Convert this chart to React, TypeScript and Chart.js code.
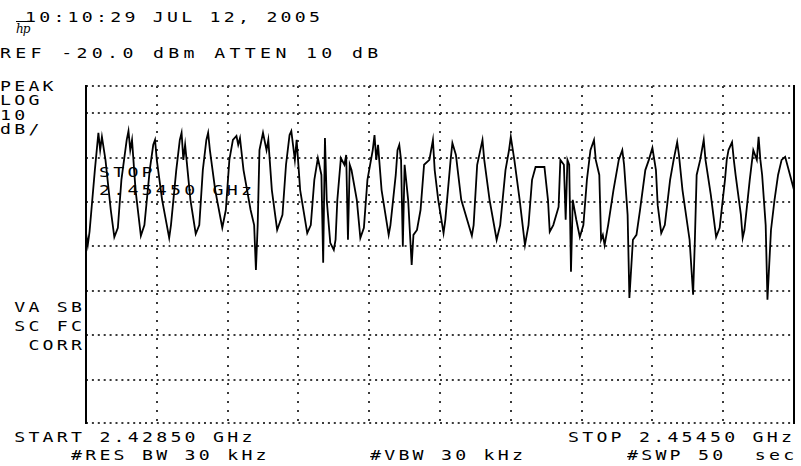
import React, { useEffect, useRef } from "react";
import { Chart, registerables } from "chart.js";

Chart.register(...registerables);

// ---- Instrument settings / labels ----
const headerTime = "10:10:29 JUL 12, 2005";
const refLine = "REF -20.0 dBm ATTEN 10 dB";
const leftTopLabels = ["PEAK", "LOG", "10", "dB/"];
const leftMidLabels = [" VA SB", " SC FC", "  CORR"];
const markerLines = ["STOP", "2.45450 GHz"];
const startLabel = " START 2.42850 GHz";
const stopLabel = "STOP 2.45450 GHz";
const resLabel = "#RES BW 30 kHz";
const vbwLabel = "#VBW 30 kHz";
const swpLabel = "#SWP 50  sec";

// ---- Axis definition (trace points 0..400, level in dBm) ----
const X_MIN = 0;
const X_MAX = 400;
const X_STEP = 40; // one division
const Y_MIN = -89.8;
const Y_MAX = -13.85;
const yGridLevels = [-89.8, -80, -70, -60, -50, -40, -30, -20, -13.85];

// ---- Trace (point index, level dBm) ----
const traceIndex = [
  0, 1, 2, 5, 7, 8, 9, 11, 14, 16, 18, 20, 23, 24, 25, 26, 28, 31, 33, 36, 38, 39, 40, 43, 47, 48,
  51, 53, 54, 55, 56, 59, 62, 64, 66, 68, 69, 70, 73, 77, 79, 81, 83, 85, 86, 87, 89, 93, 95, 96, 97,
  98, 100, 102, 103, 105, 108, 111, 113, 115, 116, 118, 119, 121, 125, 127, 129, 131, 133, 134, 135,
  136, 138, 140, 141, 142, 144, 146, 147, 148, 149, 150, 153, 155, 157, 159, 162, 163, 164, 165, 167,
  171, 172, 175, 176, 177, 178, 179, 180, 182, 184, 185, 187, 189, 191, 194, 196, 197, 199, 202, 203,
  206, 207, 209, 210, 212, 218, 219, 221, 224, 225, 228, 232, 234, 237, 239, 240, 242, 245, 248, 250,
  252, 254, 259, 261, 262, 264, 267, 268, 270, 271, 272, 273, 274, 275, 277, 279, 281, 283, 285, 287,
  288, 290, 291, 292, 293, 295, 298, 301, 303, 304, 306, 307, 309, 311, 313, 316, 318, 320, 322, 323,
  325, 327, 330, 332, 334, 335, 337, 341, 343, 344, 345, 347, 349, 350, 353, 356, 358, 361, 362, 363,
  365, 366, 367, 370, 371, 372, 375, 377, 379, 380, 381, 382, 384, 385, 387, 389, 391, 393, 395, 397,
  400,
];
const traceLevel = [
  -47.0, -49.7, -46.7, -32.8, -24.4, -28.3, -25.3, -30.5, -41.8, -47.9, -45.8, -35.0, -26.0, -24.0,
  -28.3, -26.0, -37.3, -47.6, -45.2, -32.8, -27.1, -26.0, -30.5, -39.5, -48.1, -45.2,
  -32.8, -26.0, -24.4, -30.5, -27.1, -39.5, -47.2, -45.2, -32.8, -26.0, -24.4, -28.3, -37.3, -45.8,
  -41.8, -30.5, -26.0, -25.1, -27.1, -25.6, -32.8, -41.8, -45.2, -55.3, -45.2,
  -28.3, -24.4, -28.3, -26.0, -37.3, -46.3, -42.9, -31.6, -24.9, -24.0, -30.5, -26.0, -37.3, -47.0,
  -45.2, -35.0, -30.1, -33.9, -53.7, -25.6,
  -39.5, -49.2, -50.8, -48.5, -39.5, -30.1, -31.6, -29.4, -48.5, -31.6, -32.8, -39.5, -48.1, -45.8,
  -35.0, -28.3, -24.9, -30.5, -27.1, -37.3,
  -47.4, -45.2, -33.9, -28.3, -27.1, -30.5, -50.1, -31.6, -39.5, -54.2, -47.4, -46.3, -41.8, -31.6,
  -30.5, -26.0, -32.8, -39.5, -47.0, -44.0,
  -30.5, -26.7, -29.4, -32.8, -39.5, -47.6, -45.2, -31.6, -26.0, -30.5, -39.5, -48.5, -45.2, -32.8,
  -28.3, -25.3, -30.5, -39.5, -49.7, -45.2,
  -35.0, -32.1, -32.1, -39.5, -46.7, -45.2, -41.1, -30.5, -31.6, -44.0, -30.5, -31.6, -55.7, -39.5,
  -44.0, -47.9, -45.2, -35.0, -28.3, -26.0,
  -30.5, -33.9, -48.5, -47.4, -49.7, -45.2, -37.3, -30.5, -28.3, -31.6, -42.9, -61.6, -48.5, -47.4,
  -41.8, -32.8, -30.5, -27.8, -32.8, -40.7,
  -47.0, -45.2, -35.0, -30.5, -26.5, -29.4, -37.3, -48.5, -60.9, -48.5, -33.9, -30.5, -26.0, -30.5,
  -38.4, -47.9, -45.8, -35.0, -30.5, -28.3,
  -26.5, -30.5, -33.9, -42.9, -48.1, -46.3, -35.0, -28.3, -30.5, -25.3, -30.5, -33.9, -45.2, -62.0,
  -46.3, -39.5, -33.9, -30.5, -29.8, -32.8,
  -37.3,
];

// ---- Text helper (HP-style fixed character grid) ----
const FONT_SIZE = 14;
const GLYPH_ADV = 0.602 * FONT_SIZE;
const STRETCH = 1.3;

function Txt(props: { x: number; baseline: number; text: string; adv?: number }) {
  const adv = props.adv ?? 14.2;
  return (
    <div
      style={{
        position: "absolute",
        left: props.x,
        top: props.baseline - 11.85,
        fontFamily: '"DejaVu Sans Mono", monospace',
        fontSize: FONT_SIZE,
        lineHeight: FONT_SIZE + "px",
        letterSpacing: adv / STRETCH - GLYPH_ADV,
        whiteSpace: "pre",
        color: "#000",
        transform: `scaleX(${STRETCH})`,
        transformOrigin: "0 0",
      }}
    >
      {props.text}
    </div>
  );
}

export default function App() {
  const ref = useRef<HTMLCanvasElement | null>(null);

  useEffect(() => {
    if (!ref.current) return;
    const dotted = { color: "#3a3a3a", lineWidth: 2, drawTicks: false };
    const chart = new Chart(ref.current, {
      type: "line",
      data: {
        datasets: [
          {
            data: traceIndex.map((x, i) => ({ x, y: traceLevel[i] })),
            borderColor: "#000",
            borderWidth: 1.8,
            pointRadius: 0,
            tension: 0,
            fill: false,
          },
        ],
      },
      options: {
        responsive: false,
        animation: false,
        devicePixelRatio: 1,
        layout: { padding: { left: 86, right: 7, top: 86, bottom: 43 } },
        plugins: { legend: { display: false }, tooltip: { enabled: false } },
        scales: {
          x: {
            type: "linear",
            min: X_MIN,
            max: X_MAX,
            ticks: { display: false, stepSize: X_STEP },
            grid: dotted,
            border: { display: false, dash: [2, 7] },
          },
          y: {
            type: "linear",
            position: "left",
            min: Y_MIN,
            max: Y_MAX,
            afterBuildTicks: (s: any) => {
              s.ticks = yGridLevels.map((v) => ({ value: v }));
            },
            ticks: { display: false },
            grid: dotted,
            border: { display: false, dash: [2, 3.9] },
          },
          yL: {
            type: "linear",
            position: "left",
            min: Y_MIN,
            max: Y_MAX,
            ticks: { display: false },
            grid: { display: false, drawTicks: false },
            border: { display: true, color: "#000", width: 2 },
          },
          yR: {
            type: "linear",
            position: "right",
            min: Y_MIN,
            max: Y_MAX,
            ticks: { display: false },
            grid: { display: false, drawTicks: false },
            border: { display: true, color: "#000", width: 2 },
          },
        },
      } as any,
    });
    return () => chart.destroy();
  }, []);

  return (
    <div
      style={{
        position: "fixed",
        left: 0,
        top: 0,
        width: 801,
        height: 466,
        background: "#fff",
        overflow: "hidden",
      }}
    >
      <Txt x={25} baseline={22} text={headerTime} />
      <div
        style={{
          position: "absolute",
          left: 16,
          top: 23,
          fontFamily: '"DejaVu Serif", serif',
          fontStyle: "italic",
          fontSize: 12,
          lineHeight: "12px",
          letterSpacing: -1,
          color: "#000",
          textDecoration: "overline",
        }}
      >
        hp
      </div>
      <Txt x={0} baseline={58} text={refLine} adv={15.3} />
      {leftTopLabels.map((t, i) => (
        <Txt key={"lt" + i} x={0} baseline={90.5 + i * 14.5} text={t} />
      ))}
      {leftMidLabels.map((t, i) => (
        <Txt key={"lm" + i} x={0} baseline={312 + i * 19} text={t} />
      ))}
      {markerLines.map((t, i) => (
        <Txt key={"mk" + i} x={99} baseline={177 + i * 18} text={t} />
      ))}
      <Txt x={0} baseline={442} text={startLabel} />
      <Txt x={568} baseline={442} text={stopLabel} />
      <Txt x={71} baseline={460} text={resLabel} />
      <Txt x={370} baseline={460} text={vbwLabel} />
      <Txt x={627} baseline={460} text={swpLabel} />
      <canvas
        ref={ref}
        width={801}
        height={466}
        style={{ position: "absolute", left: 0, top: 0 }}
      />
    </div>
  );
}
